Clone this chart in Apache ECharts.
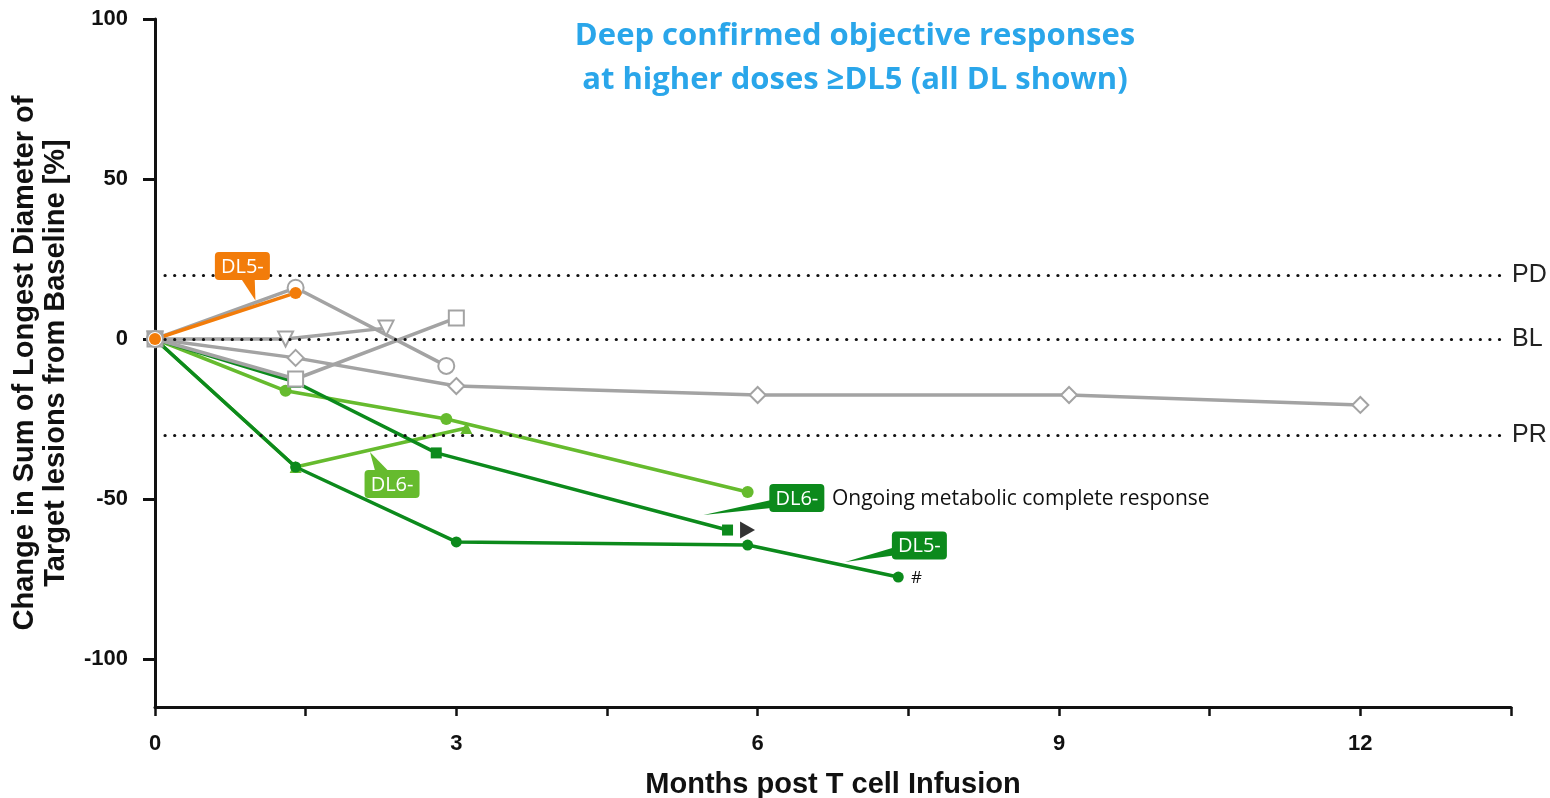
<!DOCTYPE html>
<html>
<head>
<meta charset="utf-8">
<script src="https://cdn.jsdelivr.net/npm/echarts@6/dist/echarts.min.js"></script>
<style>
  html, body { margin: 0; padding: 0; background: #fff; }
  #chart { width: 1550px; height: 798px; }
</style>
</head>
<body>
<div id="chart"></div>
<script>
// Months after infusion and % change in target lesion diameters, per patient
const grayCircle    = [[0, 0], [1.4, 16], [2.9, -8.4]];
const grayTriangle  = [[0, 0], [1.3, 0], [2.3, 3.4]];
const grayDiamond   = [[0, 0], [1.4, -5.9], [3.0, -14.7], [6.0, -17.5], [9.1, -17.5], [12.0, -20.6]];
const graySquare    = [[0, 0], [1.4, -12.5], [3.0, 6.6]];
const orangeDL5     = [[0, 0], [1.4, 14.4]];
const lightHex      = [[0, 0], [1.3, -16.2], [2.9, -25], [5.9, -47.8]];
const lightTriangle = [[0, 0], [1.4, -40], [3.1, -27.8]];
const darkSquare    = [[0, 0], [1.4, -13.5], [2.8, -35.6], [5.7, -59.7]];
const darkCircle    = [[0, 0], [1.4, -40], [3.0, -63.4], [5.9, -64.4], [7.4, -74.4]];

// Response thresholds
const thresholds = [
  { name: 'PD', value: 20 },
  { name: 'BL', value: 0 },
  { name: 'PR', value: -30 }
];

// Axis ticks
const xTicks = [0, 3, 6, 9, 12];
const yTicks = [-100, -50, 0, 50, 100];

// Dose-level callouts: label, colour, pointer tip and box centre (data units)
const callouts = [
  { text: 'DL5-', color: '#f27c0a', tip: [1.0, 12],    box: [0.87, 22.8] },
  { text: 'DL6-', color: '#66bb2e', tip: [2.14, -35.3], box: [2.36, -45.3] },
  { text: 'DL6-', color: '#0c8a1c', tip: [5.46, -55],  box: [6.39, -49.7] },
  { text: 'DL5-', color: '#0c8a1c', tip: [6.87, -69.7], box: [7.61, -64.5] }
];
const ongoingNote = { text: 'Ongoing metabolic complete response', at: [6.74, -49.7] };
const ongoingArrow = [[5.7, -59.7]];
const hashMark = { text: '#', at: [7.58, -74.8] };

const GRAY = '#a3a3a3';
const LIGHT = '#66bb2e';
const DARK = '#0c8a1c';
const ORANGE = '#f27c0a';
const TICK_FONT = '"Liberation Sans", Arial, sans-serif';

function lineSeries(data, color, symbol, size, opts) {
  return Object.assign({
    type: 'line',
    data: data,
    symbol: symbol,
    symbolSize: size,
    lineStyle: { color: color, width: 3.5 },
    itemStyle: { color: color, borderWidth: 3 },
    emphasis: { disabled: true },
    animation: false
  }, opts || {});
}

const chart = echarts.init(document.getElementById('chart'), null, { renderer: 'canvas' });

const option = {
  animation: false,
  backgroundColor: '#ffffff',
  title: {
    text: 'Deep confirmed objective responses\nat higher doses ≥DL5 (all DL shown)',
    left: 850,
    top: 9,
    textAlign: 'center',
    textStyle: {
      color: '#2aa6ea',
      fontFamily: 'Open Sans',
      fontWeight: 'bold',
      fontSize: 31,
      lineHeight: 44
    }
  },
  grid: { left: 155, right: 39, top: 19, bottom: 91, containLabel: false, outerBoundsMode: 'none' },
  xAxis: {
    type: 'value',
    min: 0,
    max: 13.5,
    interval: 1.5,
    name: 'Months post T cell Infusion',
    nameLocation: 'middle',
    nameGap: 63,
    nameTextStyle: { fontFamily: 'Liberation Sans', fontWeight: 'bold', fontSize: 29, color: '#111' },
    axisLine: { onZero: false, lineStyle: { color: '#111', width: 3 } },
    axisTick: { show: true, length: 9, lineStyle: { color: '#111', width: 2.5 } },
    axisLabel: {
      margin: 26,
      fontFamily: TICK_FONT,
      fontWeight: 'bold',
      fontSize: 22,
      color: '#111',
      formatter: v => (xTicks.indexOf(v) >= 0 ? String(v) : '')
    },
    splitLine: { show: false }
  },
  yAxis: {
    type: 'value',
    min: -115,
    max: 100,
    name: 'Change in Sum of Longest Diameter of\nTarget lesions from Baseline [%]',
    nameLocation: 'middle',
    nameRotate: 90,
    nameGap: 84,
    nameTextStyle: { fontFamily: 'Liberation Sans', fontWeight: 'bold', fontSize: 29, lineHeight: 31, color: '#111' },
    axisLine: { show: true, onZero: false, lineStyle: { color: '#111', width: 3 } },
    axisTick: { show: true, length: 12, customValues: yTicks, lineStyle: { color: '#111', width: 3 } },
    axisLabel: {
      margin: 27,
      customValues: yTicks,
      fontFamily: TICK_FONT,
      fontWeight: 'bold',
      fontSize: 22,
      color: '#111'
    },
    splitLine: { show: false }
  },
  series: [
    lineSeries(lightTriangle, LIGHT, 'triangle', 12),
    lineSeries(lightHex, LIGHT, 'circle', 12),
    lineSeries(darkSquare, DARK, 'rect', 11),
    lineSeries(darkCircle, DARK, 'circle', 11),
    lineSeries(grayDiamond, GRAY, 'emptyDiamond', 16),
    lineSeries(graySquare, GRAY, 'emptyRect', 15),
    lineSeries(grayTriangle, GRAY, 'emptyTriangle', 15, { symbolRotate: 180 }),
    lineSeries(grayCircle, GRAY, 'emptyCircle', 16),
    lineSeries(orangeDL5, ORANGE, 'circle', 12),
    {
      // Ongoing-response marker
      type: 'scatter',
      data: ongoingArrow,
      symbol: 'triangle',
      symbolRotate: -90,
      symbolSize: [17, 15],
      symbolOffset: [20, 0],
      itemStyle: { color: '#000' },
      emphasis: { disabled: true },
      silent: true
    },
    {
      // Threshold reference lines
      type: 'line',
      data: [],
      silent: true,
      markLine: {
        silent: true,
        symbol: ['none', 'none'],
        animation: false,
        lineStyle: { color: '#111', width: 3.2, type: [0.1, 9.5], cap: 'round' },
        label: {
          show: true,
          position: 'end',
          distance: 6,
          fontFamily: 'Liberation Sans',
          fontSize: 25,
          color: '#222'
        },
        data: thresholds.map(t => [
          { coord: [0.1, t.value], name: t.name, label: { formatter: t.name } },
          { coord: [13.45, t.value] }
        ])
      }
    }
  ]
};

chart.setOption(option);

// Callout boxes and notes, placed from data coordinates
function px(p) { return chart.convertToPixel({ gridIndex: 0 }, p); }

const graphics = [];
const boxW = 55, boxH = 28;
callouts.forEach(c => {
  const tip = px(c.tip);
  const ctr = px(c.box);
  const dx = tip[0] - ctr[0], dy = tip[1] - ctr[1];
  let b1, b2;
  if (Math.abs(dy) * boxW > Math.abs(dx) * boxH) {
    // pointer leaves through the top or bottom edge
    const ey = ctr[1] + Math.sign(dy) * (boxH / 2 - 2);
    const ex = ctr[0] + dx * ((boxH / 2) / Math.abs(dy));
    b1 = [ex - 7, ey]; b2 = [ex + 7, ey];
  } else {
    // pointer leaves through a side edge, as a slim wedge
    const ex = ctr[0] + Math.sign(dx) * (boxW / 2 - 2);
    b1 = [ex, ctr[1] + 2]; b2 = [ex, ctr[1] + 10];
  }
  graphics.push({
    type: 'polygon',
    shape: { points: [b1, tip, b2] },
    style: { fill: c.color },
    silent: true, z: 100
  });
  graphics.push({
    type: 'rect',
    shape: { x: ctr[0] - boxW / 2, y: ctr[1] - boxH / 2, width: boxW, height: boxH, r: 4 },
    style: { fill: c.color },
    silent: true, z: 101
  });
  graphics.push({
    type: 'text',
    x: ctr[0], y: ctr[1] + 1,
    style: {
      text: c.text, fill: '#fff', fontFamily: 'Open Sans', fontSize: 20,
      align: 'center', verticalAlign: 'middle'
    },
    silent: true, z: 102
  });
});

const note = px(ongoingNote.at);
graphics.push({
  type: 'text', x: note[0], y: note[1] + 1,
  style: { text: ongoingNote.text, fill: '#111', fontFamily: 'Open Sans', fontSize: 21, verticalAlign: 'middle' },
  silent: true, z: 102
});
const hash = px(hashMark.at);
graphics.push({
  type: 'text', x: hash[0], y: hash[1],
  style: { text: hashMark.text, fill: '#111', fontFamily: 'Open Sans', fontSize: 17, align: 'center', verticalAlign: 'middle' },
  silent: true, z: 102
});

chart.setOption({ graphic: { elements: graphics } });
</script>
</body>
</html>
